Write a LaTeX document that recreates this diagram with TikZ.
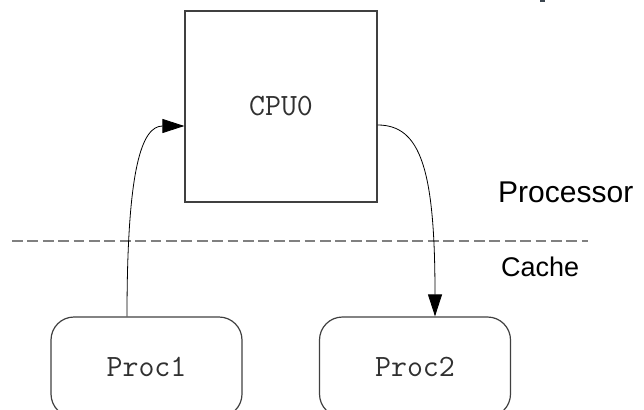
\documentclass[tikz,border=0pt]{standalone}
\usepackage{fontspec}
\setmainfont{Liberation Sans}
\usetikzlibrary{arrows.meta,calc}
\definecolor{boxline}{HTML}{404040}
\definecolor{layerline}{HTML}{808080}
\definecolor{markgray}{HTML}{3C4650}
\definecolor{monotext}{HTML}{303030}
\tikzset{
  monolabel/.style={text=monotext, font=\ttfamily\fontsize{31}{35}\selectfont},
  cpubox/.style={monolabel, draw=boxline, line width=1.2pt, minimum width=192pt,
    minimum height=191pt, inner sep=0pt},
  procbox/.style={monolabel, draw=boxline, line width=1.2pt, rounded corners=23pt,
    minimum width=191pt, minimum height=100pt, inner sep=0pt},
  flow/.style={line width=0.8pt, -{Triangle[length=22pt,width=14pt]}},
  layer/.style={draw=layerline, line width=1.5pt, dash pattern=on 10.7pt off 4.7pt},
  layerlabel/.style={inner sep=0pt, anchor=base west}
}
\begin{document}
\begin{tikzpicture}[x=1pt,y=-1pt]
  \useasboundingbox (0,0) rectangle (644,409);
  % processor and cache blocks
  \node[cpubox] (cpu) at (281,106.5) {CPU0};
  \node[procbox] (p1) at (146.5,367) {Proc1};
  \node[procbox] (p2) at (415,367) {Proc2};
  % boundary between the two layers
  \coordinate (lineL) at (12,241);
  \coordinate (lineR) at (588,241);
  \draw[layer] (lineL) -- (lineR);
  \node[layerlabel, font=\fontsize{30}{34}\selectfont] (lproc) at (498,202) {Processor};
  \node[layerlabel, font=\fontsize{27}{31}\selectfont] (lcache) at (501,276) {Cache};
  % data flow
  \coordinate (up0) at ($(p1.north)+(-19.5,0)$);
  \coordinate (up1) at ($(cpu.west)+(0,19.5)$);
  \coordinate (dn0) at ($(cpu.east)+(0,18.5)$);
  \coordinate (dn1) at ($(p2.north)+(20,0)$);
  \draw[flow] (up0) .. controls ($(up0)+(0,-147)$) and ($(up1)+(-43,0)$) .. (up1);
  \draw[flow] (dn0) .. controls ($(dn0)+(43,0)$) and ($(dn1)+(0,-147)$) .. (dn1);
  % small mark at the top edge
  \fill[markgray] (540,0) rectangle (545,2);
\end{tikzpicture}
\end{document}
